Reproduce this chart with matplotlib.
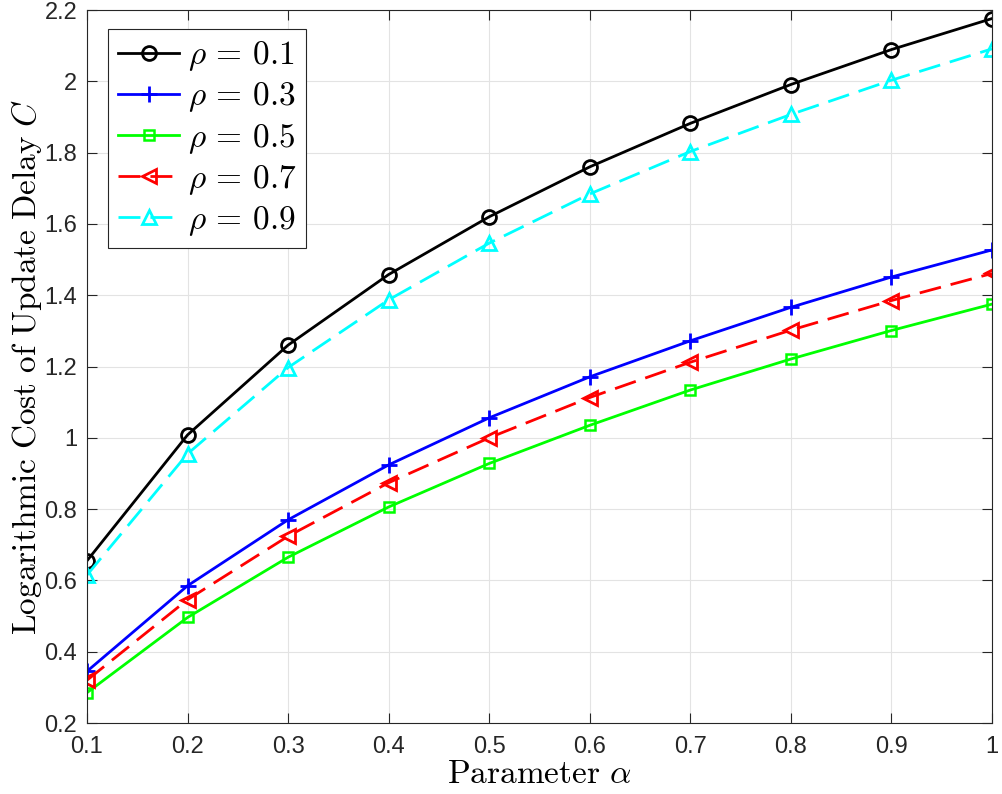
import matplotlib
matplotlib.use("Agg")
import matplotlib.pyplot as plt

plt.rcParams['mathtext.fontset'] = 'cm'
plt.rcParams['font.family'] = ['Liberation Sans', 'DejaVu Sans']

# data
alpha = [0.1, 0.2, 0.3, 0.4, 0.5, 0.6, 0.7, 0.8, 0.9, 1.0]
rho01 = [0.655, 1.008, 1.26, 1.458, 1.62, 1.76, 1.882, 1.991, 2.089, 2.176]
rho03 = [0.345, 0.585, 0.77, 0.924, 1.056, 1.171, 1.272, 1.366, 1.451, 1.527]
rho05 = [0.285, 0.496, 0.665, 0.806, 0.928, 1.035, 1.134, 1.221, 1.301, 1.375]
rho07 = [0.32, 0.546, 0.724, 0.874, 1.0, 1.113, 1.212, 1.302, 1.385, 1.461]
rho09 = [0.615, 0.955, 1.197, 1.387, 1.546, 1.684, 1.803, 1.907, 2.003, 2.091]

fig = plt.figure(figsize=(10.03, 7.94), dpi=100)
ax = fig.add_axes([0.0867, 0.0894, 0.9023, 0.898])

lw = 2.0
dash = (0, (7.9, 3.6))
ax.plot(alpha, rho01, color='black', lw=lw, marker='o', ms=10, mfc='none', mew=2,
        label=r'$\rho\,=\,0.1$')
ax.plot(alpha, rho03, color='blue', lw=lw, marker='+', ms=11, mew=2,
        label=r'$\rho\,=\,0.3$')
ax.plot(alpha, rho05, color='#00ff00', lw=lw, marker='s', ms=6.5, mfc='none', mew=1.8,
        label=r'$\rho\,=\,0.5$')
ax.plot(alpha, rho07, color='red', lw=lw, ls=dash, marker='<', ms=10, mfc='none', mew=2,
        label=r'$\rho\,=\,0.7$')
ax.plot(alpha, rho09, color='cyan', lw=lw, ls=dash, marker='^', ms=10, mfc='none', mew=2,
        label=r'$\rho\,=\,0.9$')

ax.set_xlim(0.1, 1.0)
ax.set_ylim(0.2, 2.2)
ax.set_xticks(alpha)
ax.set_xticklabels(['0.1', '0.2', '0.3', '0.4', '0.5', '0.6', '0.7', '0.8', '0.9', '1'])
ax.set_yticks([0.2, 0.4, 0.6, 0.8, 1.0, 1.2, 1.4, 1.6, 1.8, 2.0, 2.2])
ax.set_yticklabels(['0.2', '0.4', '0.6', '0.8', '1', '1.2', '1.4', '1.6', '1.8', '2', '2.2'])

ax.grid(True, color='#e3e3e3', lw=0.8)
ax.set_axisbelow(True)
ax.tick_params(direction='in', top=True, right=True, length=7, width=0.8,
               labelsize=17, colors='#262626')
ax.tick_params(axis='x', pad=9)
ax.tick_params(axis='y', pad=7)
for s in ax.spines.values():
    s.set_color('#262626')
    s.set_linewidth(0.8)

ax.set_xlabel(r'$\mathrm{Parameter}\ \alpha$', fontsize=24, labelpad=1)
ax.set_ylabel(r'$\mathrm{Logarithmic\ Cost\ of\ Update\ Delay}\ C$', fontsize=24, labelpad=0)

leg = ax.legend(loc='upper left', bbox_to_anchor=(0.023, 0.973), fontsize=24,
                fancybox=False, framealpha=1, edgecolor='#262626', handlelength=1.85,
                borderpad=0.3, labelspacing=0.22, handletextpad=0.25, borderaxespad=0)
leg.get_frame().set_linewidth(0.8)

fig.savefig('out.png', dpi=100)
